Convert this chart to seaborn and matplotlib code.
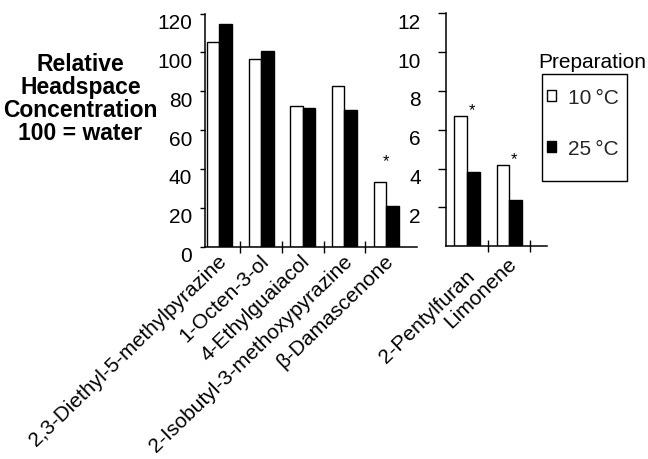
import matplotlib
matplotlib.use("Agg")
import matplotlib.pyplot as plt
import matplotlib.transforms as mtransforms
from matplotlib.patches import Patch, Rectangle
import pandas as pd
import seaborn as sns

# Relative headspace concentration (100 = water) per compound and preparation temperature
left_compounds = ["2,3-Diethyl-5-methylpyrazine", "1-Octen-3-ol", "4-Ethylguaiacol",
                  "2-Isobutyl-3-methoxypyrazine", "β-Damascenone"]
left_10c = [105.6, 96.5, 72.6, 82.6, 33.4]
left_25c = [114.7, 101.0, 71.4, 70.4, 21.0]

right_compounds = ["2-Pentylfuran", "Limonene"]
right_10c = [6.7, 4.2]
right_25c = [3.85, 2.4]

significant = ["β-Damascenone", "2-Pentylfuran", "Limonene"]
preparations = ["10\u2009°C", "25\u2009°C"]
prep_colors = ["white", "black"]

left_yticks = [0, 20, 40, 60, 80, 100, 120]
right_yticks = [2, 4, 6, 8, 10, 12]

W, H = 648, 460
FONT = "Liberation Sans"


def long_table(compounds, v10, v25):
    return pd.DataFrame({
        "compound": compounds + compounds,
        "prep": [preparations[0]] * len(compounds) + [preparations[1]] * len(compounds),
        "value": list(v10) + list(v25),
    })


sns.set_theme(style="white")
plt.rcParams["font.family"] = [FONT, "DejaVu Sans"]

fig = plt.figure(figsize=(W / 100, H / 100), dpi=100)
fig.patch.set_facecolor("white")


def px_axes(x0, x1, ytop, ybot):
    return fig.add_axes([x0 / W, 1 - ybot / H, (x1 - x0) / W, (ybot - ytop) / H])


def px_shift(dx, dy):
    return mtransforms.ScaledTranslation(dx / 100, -dy / 100, fig.dpi_scale_trans)


ax_l = px_axes(205, 417, 14.7, 247.5)
ax_r = px_axes(446, 547, 14.3, 247.3)


def draw_panel(ax, compounds, v10, v25, xlim, ylim, yticks, boundaries,
               ytick_len, ytick_pad, star_dx, star_dy, label_drop):
    df = long_table(compounds, v10, v25)
    sns.barplot(data=df, x="compound", y="value", hue="prep", order=compounds,
                hue_order=preparations, palette=prep_colors, saturation=1,
                edgecolor="black", linewidth=1.0, width=0.6, gap=0,
                errorbar=None, legend=False, ax=ax)
    ax.set_facecolor("white")
    ax.set_xlim(*xlim)
    ax.set_ylim(*ylim)
    ax.set_xlabel("")
    ax.set_ylabel("")
    for side in ("top", "right"):
        ax.spines[side].set_visible(False)
    for side in ("left", "bottom"):
        ax.spines[side].set_color("black")
        ax.spines[side].set_linewidth(1.1)

    ax.set_yticks(yticks)
    ax.set_yticklabels([str(t) for t in yticks], fontsize=15, color="black")
    ax.tick_params(axis="y", which="major", direction="out", length=ytick_len,
                   width=1.0, color="black", pad=ytick_pad, left=True)
    for lab in ax.get_yticklabels():
        lab.set_transform(lab.get_transform() + px_shift(0, 7))

    ax.set_xticks(range(len(compounds)))
    ax.set_xticklabels(compounds, rotation=44, ha="right", va="top",
                       rotation_mode="anchor", fontsize=15, color="black")
    ax.tick_params(axis="x", which="major", length=0, pad=3)
    for lab, drop in zip(ax.get_xticklabels(), label_drop):
        lab.set_transform(lab.get_transform() + px_shift(-2, drop))
    ax.set_xticks(boundaries, minor=True)
    ax.tick_params(axis="x", which="minor", direction="inout", length=8,
                   width=1.0, color="black", bottom=True)

    for i, (name, val) in enumerate(zip(compounds, v10)):
        if name in significant:
            ax.annotate("*", xy=(i, val), xytext=(star_dx, star_dy),
                        textcoords="offset points", ha="center", va="center",
                        fontsize=12, color="black")


draw_panel(ax_l, left_compounds, left_10c, left_25c, (-0.343, 4.74), (0, 120),
           left_yticks, [0.5, 1.5, 2.5, 3.5], 3.6, 5.6, 0, 15,
           [0, 0, 0, 0, 0])
draw_panel(ax_r, right_compounds, right_10c, right_25c, (-0.5, 1.9), (0, 12),
           right_yticks, [0.5, 1.5], 5.5, 12.5, 3.5, 4.5, [15, 3])

# Axis title set as a free-standing block to the left of the first panel
fig.text(80.5 / W, 1 - 99 / H, "Relative\nHeadspace\nConcentration\n100 = water",
         ha="center", va="center", fontsize=16.5, fontweight="bold",
         linespacing=1.0, color="black")

# Legend: heading above, framed box with the two preparations
fig.text(538 / W, 1 - 62 / H, "Preparation", ha="left", va="center",
         fontsize=15, color="black")
fig.patches.append(Rectangle((541.7 / W, 1 - 181.7 / H), (627.3 - 541.7) / W,
                             (181.7 - 75) / H, transform=fig.transFigure,
                             facecolor="none", edgecolor="black", linewidth=1.0))
handles = [Patch(facecolor=c, edgecolor="black", linewidth=1.0) for c in prep_colors]
leg = fig.legend(handles, preparations, loc="upper left",
                 bbox_to_anchor=(547 / W, 1 - 89 / H), frameon=False,
                 fontsize=15, handlelength=0.45, handleheight=0.45,
                 handletextpad=0.55, labelspacing=1.55, borderpad=0,
                 borderaxespad=0)

fig.savefig("out.png", dpi=100, facecolor="white")
